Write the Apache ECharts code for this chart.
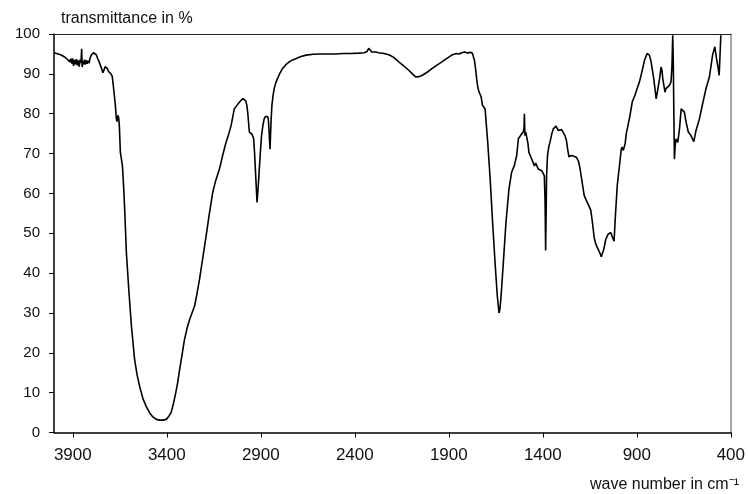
<!DOCTYPE html>
<html>
<head>
<meta charset="utf-8">
<title>IR spectrum</title>
<script src="https://cdn.jsdelivr.net/npm/echarts@6/dist/echarts.min.js"></script>
<style>
  html, body { margin: 0; padding: 0; background: #fff; }
  #chart { width: 748px; height: 494px; }
</style>
</head>
<body>
<div id="chart"></div>
<script>
// Wave numbers (cm-1) of the sampled spectrum points, high to low
var wavenumbers = [
  4000, 3990, 3978, 3965, 3955, 3945, 3935, 3928, 3922, 3916, 3911, 3906, 3901, 3896, 3891, 3886,
  3881, 3876, 3871, 3866, 3861, 3856, 3853, 3850, 3846, 3842, 3838, 3834, 3829, 3824, 3819, 3813,
  3809, 3803, 3797, 3790, 3782, 3775, 3768, 3760, 3752, 3746, 3740, 3734, 3728, 3722, 3716, 3710,
  3703, 3697, 3690, 3684, 3679, 3673, 3669, 3665, 3660, 3656, 3652, 3647, 3641, 3636, 3630, 3624,
  3615, 3601, 3588, 3571, 3557, 3544, 3527, 3509, 3491, 3474, 3456, 3438, 3420, 3403, 3390, 3376,
  3365, 3353, 3342, 3332, 3318, 3306, 3292, 3279, 3266, 3253, 3240, 3226, 3191, 3175, 3156, 3140,
  3120, 3103, 3085, 3070, 3058, 3048, 3041, 3030, 3023, 3012, 3005, 2995, 2988, 2980, 2974, 2968,
  2961, 2954, 2947, 2938, 2933, 2929, 2924, 2920, 2914, 2908, 2902, 2896, 2889, 2882, 2875, 2869,
  2864, 2860, 2856, 2851, 2846, 2841, 2835, 2829, 2820, 2811, 2798, 2785, 2767, 2749, 2731, 2714,
  2690, 2660, 2620, 2580, 2540, 2500, 2460, 2420, 2380, 2350, 2335, 2326, 2318, 2310, 2300, 2290,
  2272, 2245, 2219, 2195, 2166, 2140, 2113, 2090, 2074, 2060, 2043, 2015, 1990, 1963, 1937, 1910,
  1884, 1860, 1845, 1831, 1815, 1800, 1787, 1775, 1769, 1764, 1757, 1752, 1746, 1739, 1733, 1728,
  1721, 1715, 1707, 1700, 1693, 1680, 1668, 1654, 1642, 1636, 1633, 1628, 1622, 1610, 1596, 1580,
  1566, 1552, 1539, 1530, 1516, 1504, 1500, 1498, 1495, 1490, 1484, 1479, 1474, 1467, 1460, 1452,
  1445, 1438, 1433, 1424, 1415, 1406, 1398, 1392, 1388, 1385, 1382, 1380, 1375, 1368, 1362, 1352,
  1344, 1336, 1330, 1324, 1318, 1310, 1300, 1290, 1282, 1274, 1268, 1261, 1254, 1247, 1234, 1220,
  1210, 1203, 1191, 1180, 1171, 1159, 1145, 1136, 1127, 1119, 1110, 1097, 1089, 1083, 1076, 1065,
  1053, 1039, 1032, 1021, 1014, 1004, 991, 983, 979, 972, 968, 962, 956, 938, 924, 911,
  903, 886, 873, 859, 845, 838, 833, 824, 810, 797, 793, 788, 779, 771, 766, 762,
  750, 745, 739, 727, 718, 713, 709, 706, 703, 700, 696, 691, 682, 673, 664, 656,
  647, 638, 626, 612, 597, 585, 567, 550, 532, 514, 497, 485, 476, 467, 462, 456,
  453
];

// Transmittance (%) at each wave number above
var transmittance = [
  95.3, 95.2, 95.0, 94.8, 94.5, 94.3, 94.0, 93.6, 94.1, 93.0, 93.8, 92.6, 93.9, 92.0, 93.5, 92.4,
  93.7, 92.1, 93.4, 91.8, 93.6, 92.8, 96.3, 91.7, 93.2, 92.4, 93.6, 92.3, 93.4, 92.5, 93.3, 92.7,
  93.8, 94.6, 95.1, 95.3, 95.4, 94.8, 93.9, 93.0, 92.0, 91.2, 90.3, 91.0, 91.8, 92.1, 91.3, 90.6,
  90.6, 90.0, 89.3, 86.8, 84.5, 81.8, 79.0, 78.0, 79.6, 79.0, 76.5, 70.3, 68.5, 66.9, 62.0, 56.0,
  45.1, 35.0, 26.6, 18.2, 14.2, 11.5, 8.5, 6.5, 4.9, 3.9, 3.3, 3.1, 3.1, 3.3, 4.0, 5.2,
  7.2, 9.8, 12.6, 15.7, 19.8, 23.3, 26.2, 28.3, 30.0, 31.6, 34.7, 38.4, 49.3, 54.5, 60.2, 63.2,
  66.1, 69.5, 72.8, 75.0, 77.0, 79.5, 81.2, 81.9, 82.1, 83.0, 83.3, 83.8, 83.7, 83.2, 82.1, 79.5,
  75.4, 75.2, 74.9, 73.7, 70.0, 66.1, 61.5, 57.7, 61.5, 66.1, 70.5, 74.5, 77.0, 78.7, 79.3, 79.5,
  79.3, 78.7, 75.5, 71.1, 77.5, 82.1, 84.5, 86.3, 87.8, 88.8, 90.2, 91.3, 92.3, 93.0, 93.5, 93.8,
  94.3, 94.7, 94.9, 95.0, 95.0, 95.0, 95.1, 95.1, 95.2, 95.3, 95.6, 96.4, 96.0, 95.5, 95.6, 95.5,
  95.3, 95.1, 94.8, 94.2, 93.0, 92.0, 90.9, 89.8, 89.2, 89.3, 89.6, 90.4, 91.3, 92.2, 93.0, 93.9,
  94.7, 95.1, 95.0, 95.3, 95.5, 95.2, 95.4, 95.2, 94.7, 93.5, 91.0, 88.8, 86.7, 85.4, 84.8, 84.2,
  82.1, 81.7, 81.2, 77.0, 72.8, 63.6, 53.5, 42.6, 34.2, 31.5, 30.0, 31.0, 34.2, 42.6, 52.7, 61.1,
  65.3, 66.9, 69.5, 73.7, 74.7, 75.4, 76.5, 80.0, 74.5, 75.3, 74.9, 72.5, 70.3, 69.5, 69.0, 67.8,
  66.9, 67.6, 67.4, 66.1, 65.8, 65.7, 65.0, 64.4, 58.0, 45.7, 56.0, 64.4, 69.5, 71.8, 72.8, 75.0,
  76.2, 76.7, 76.9, 76.4, 75.8, 76.0, 76.0, 75.6, 74.5, 73.2, 71.1, 69.2, 69.6, 69.5, 69.3, 69.0,
  68.0, 66.5, 62.8, 59.5, 58.5, 57.3, 55.8, 52.7, 49.0, 47.4, 46.4, 45.1, 44.1, 44.6, 45.9, 48.5,
  49.7, 50.2, 49.3, 48.0, 54.3, 62.0, 67.5, 71.0, 71.6, 70.8, 70.5, 72.5, 75.0, 79.1, 83.0, 84.5,
  85.0, 88.0, 90.5, 93.4, 95.1, 95.2, 94.7, 93.0, 88.8, 83.7, 84.8, 86.2, 88.8, 91.7, 90.8, 88.8,
  85.4, 86.3, 86.7, 87.1, 88.0, 92.0, 99.7, 93.0, 80.0, 68.6, 72.0, 73.7, 72.8, 76.2, 81.2, 81.7,
  80.4, 77.9, 75.4, 74.5, 73.0, 75.8, 78.7, 82.5, 86.3, 89.2, 94.7, 96.8, 93.8, 91.3, 89.6, 96.3,
  99.7
];

// Tick positions of both axes
var xTicks = [3900, 3400, 2900, 2400, 1900, 1400, 900, 400];
var yTicks = [0, 10, 20, 30, 40, 50, 60, 70, 80, 90, 100];

var FONT = '"Liberation Sans", Arial, sans-serif';

var points = wavenumbers.map(function (w, i) { return [w, transmittance[i]]; });

var chart = echarts.init(document.getElementById('chart'), null, { renderer: 'canvas' });

chart.setOption({
  animation: false,
  backgroundColor: '#fff',
  title: [
    {
      text: 'transmittance in %',
      left: 56, top: 6,
      textStyle: { fontFamily: FONT, fontSize: 16, fontWeight: 'normal', color: '#111' }
    },
    {
      text: 'wave number in cm\u207B\u00B9',
      right: 4, top: 472,
      textStyle: { fontFamily: FONT, fontSize: 16, fontWeight: 'normal', color: '#111' }
    }
  ],
  grid: {
    left: 54, right: 15, top: 34, bottom: 61.5,
    show: false
  },
  xAxis: [
    {
      type: 'value', min: 400, max: 4000, inverse: true, position: 'bottom',
      axisLine: { show: true, onZero: false, lineStyle: { color: '#000', width: 1.5 } },
      axisTick: { show: true, length: 5, customValues: xTicks, lineStyle: { color: '#000', width: 1 } },
      axisLabel: {
        customValues: xTicks, fontFamily: FONT, fontSize: 17, color: '#111', margin: 14,
        formatter: function (v) { return String(v); }
      },
      splitLine: { show: false }
    },
    {
      type: 'value', min: 400, max: 4000, inverse: true, position: 'top',
      axisLine: { show: true, onZero: false, lineStyle: { color: '#222', width: 1.2 } },
      axisTick: { show: false }, axisLabel: { show: false }, splitLine: { show: false }
    }
  ],
  yAxis: [
    {
      type: 'value', min: 0, max: 100, interval: 10, position: 'left',
      axisLine: { show: true, onZero: false, lineStyle: { color: '#000', width: 1.5 } },
      axisTick: { show: true, length: 5, customValues: yTicks, lineStyle: { color: '#000', width: 1 } },
      axisLabel: { customValues: yTicks, fontFamily: FONT, fontSize: 15, color: '#111', margin: 14 },
      splitLine: { show: false }
    },
    {
      type: 'value', min: 0, max: 100, interval: 10, position: 'right',
      axisLine: { show: true, onZero: false, lineStyle: { color: '#8a8a8a', width: 1.5 } },
      axisTick: { show: false }, axisLabel: { show: false }, splitLine: { show: false }
    }
  ],
  series: [{
    type: 'line',
    data: points,
    xAxisIndex: 0,
    yAxisIndex: 0,
    showSymbol: false,
    symbol: 'none',
    smooth: false,
    lineStyle: { color: '#000', width: 1.6 }
  }]
});
</script>
</body>
</html>
